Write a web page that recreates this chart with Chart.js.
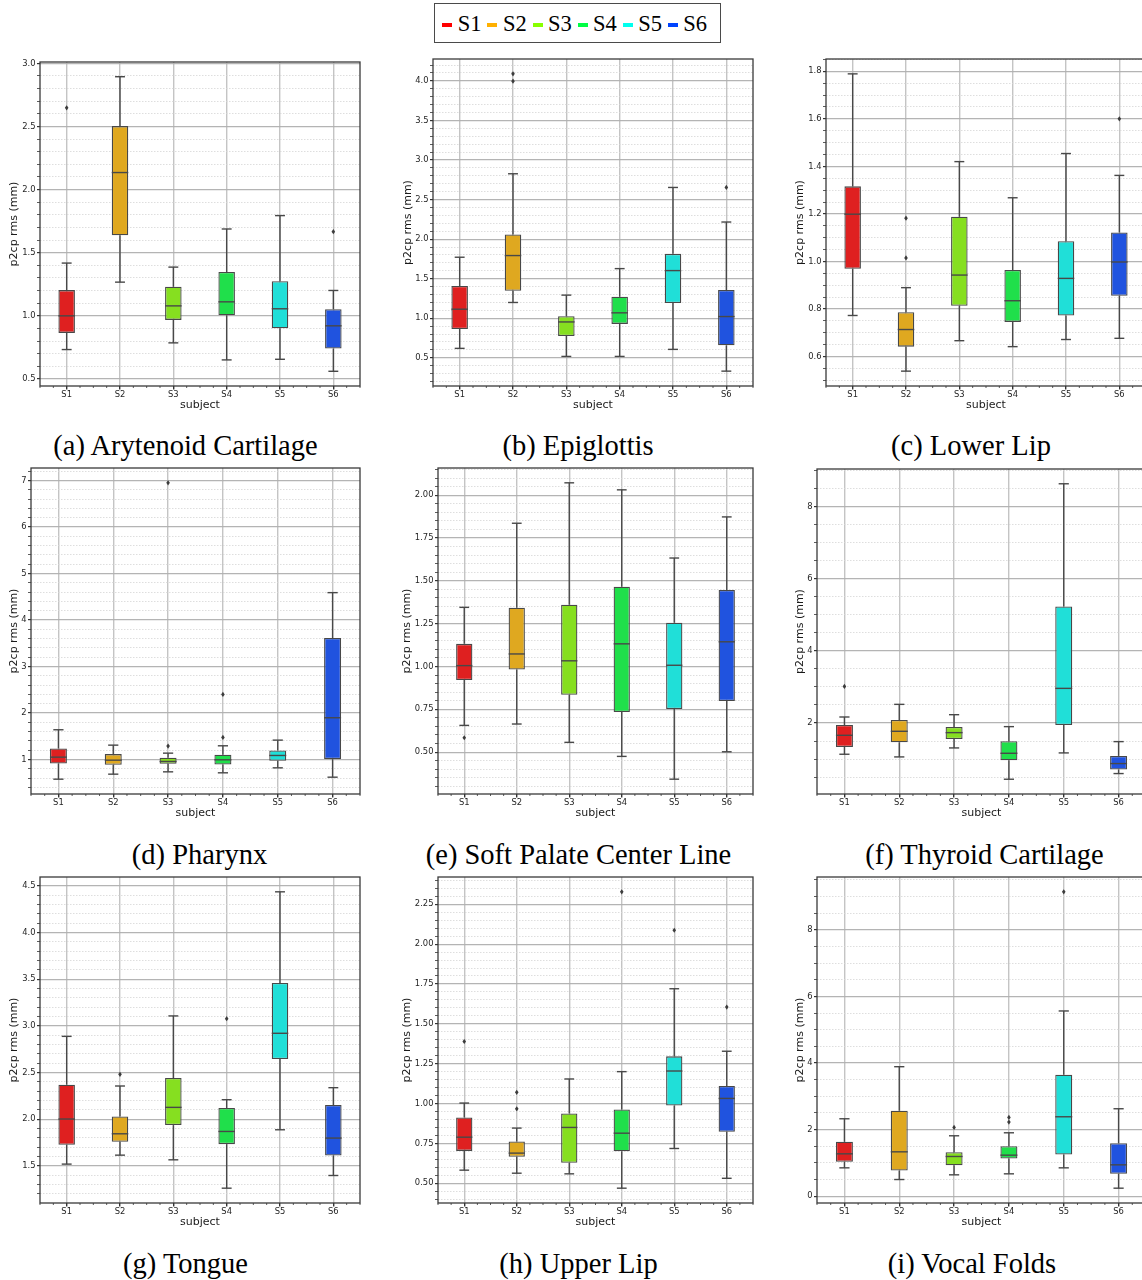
<!DOCTYPE html>
<html>
<head>
<meta charset="utf-8">
<title>p2cp rms per subject</title>
<script src="https://cdn.jsdelivr.net/npm/chart.js@4.4.1/dist/chart.umd.min.js"></script>
<style>
  html, body { margin: 0; padding: 0; background: #fff; overflow: hidden; }
  body { width: 1142px; height: 1280px; position: relative; }
  canvas { position: absolute; }
  .caption {
    position: absolute; white-space: nowrap; line-height: 1;
    font-family: 'Liberation Serif', serif; font-size: 28.5px; color: #000;
    transform: translate(-50%, -50%);
  }
  #legend {
    position: absolute; left: 434px; top: 3px; width: 287px; height: 40px;
    border: 1.4px solid #4a4a4a; box-sizing: border-box; background: #fff;
  }
  .lg-handle { position: absolute; width: 10px; height: 3.5px; top: 19px; }
  .lg-text {
    position: absolute; top: 6px; line-height: 28px;
    font-family: 'Liberation Serif', serif; font-size: 22.5px; color: #000;
  }
</style>
</head>
<body>
<div id="legend"></div>
<script>
const subjects = ['S1', 'S2', 'S3', 'S4', 'S5', 'S6'];

// each row: [lower whisker, q1, median, q3, upper whisker]
const arytenoidBoxes = [
    [0.733, 0.865, 1.000, 1.204, 1.418],
    [1.267, 1.638, 2.135, 2.503, 2.894],
    [0.786, 0.968, 1.079, 1.230, 1.386],
    [0.651, 1.005, 1.111, 1.347, 1.688],
    [0.656, 0.902, 1.056, 1.275, 1.794],
    [0.561, 0.741, 0.921, 1.053, 1.201]
];
const arytenoidOutliers = [[2.648], [], [], [], [], [1.667]];
const arytenoidTicks = [0.5, 1.0, 1.5, 2.0, 2.5, 3.0];

const epiglottisBoxes = [
    [0.619, 0.864, 1.114, 1.407, 1.771],
    [1.199, 1.347, 1.792, 2.059, 2.826],
    [0.517, 0.775, 0.953, 1.025, 1.292],
    [0.517, 0.928, 1.068, 1.271, 1.627],
    [0.606, 1.191, 1.602, 1.814, 2.653],
    [0.331, 0.657, 1.021, 1.356, 2.216]
];
const epiglottisOutliers = [[], [3.996, 4.089], [], [], [], [2.653]];
const epiglottisTicks = [0.5, 1.0, 1.5, 2.0, 2.5, 3.0, 3.5, 4.0];

const lowerLipBoxes = [
    [0.773, 0.969, 1.199, 1.316, 1.789],
    [0.539, 0.642, 0.714, 0.787, 0.890],
    [0.667, 0.814, 0.943, 1.188, 1.420],
    [0.642, 0.746, 0.835, 0.964, 1.268],
    [0.672, 0.773, 0.929, 1.085, 1.454],
    [0.677, 0.856, 0.998, 1.122, 1.362]
];
const lowerLipOutliers = [[], [1.015, 1.182], [], [], [], [1.600]];
const lowerLipTicks = [0.6, 0.8, 1.0, 1.2, 1.4, 1.6, 1.8];

const pharynxBoxes = [
    [0.576, 0.914, 1.050, 1.237, 1.639],
    [0.684, 0.885, 0.985, 1.115, 1.308],
    [0.734, 0.907, 0.957, 1.036, 1.136],
    [0.713, 0.892, 0.993, 1.100, 1.294],
    [0.820, 0.971, 1.086, 1.194, 1.416],
    [0.619, 1.007, 1.897, 3.612, 4.588]
];
const pharynxOutliers = [[], [], [1.287, 6.950], [1.474, 2.399], [], []];
const pharynxTicks = [1, 2, 3, 4, 5, 6, 7];

const softPalateBoxes = [
    [0.656, 0.921, 1.005, 1.132, 1.345],
    [0.664, 0.982, 1.073, 1.343, 1.836],
    [0.557, 0.835, 1.033, 1.360, 2.072],
    [0.475, 0.734, 1.132, 1.466, 2.031],
    [0.342, 0.752, 1.007, 1.255, 1.633],
    [0.502, 0.798, 1.144, 1.446, 1.873]
];
const softPalateOutliers = [[0.584], [], [], [], [], []];
const softPalateTicks = [0.5, 0.75, 1.0, 1.25, 1.5, 1.75, 2.0];

const thyroidBoxes = [
    [1.134, 1.336, 1.659, 1.945, 2.166],
    [1.060, 1.465, 1.770, 2.083, 2.516],
    [1.309, 1.558, 1.733, 1.889, 2.230],
    [0.442, 0.968, 1.161, 1.493, 1.899],
    [1.171, 1.945, 2.959, 5.226, 8.627],
    [0.599, 0.710, 0.876, 1.088, 1.484]
];
const thyroidOutliers = [[3.014], [], [], [], [], []];
const thyroidTicks = [2, 4, 6, 8];

const tongueBoxes = [
    [1.518, 1.725, 2.001, 2.369, 2.887],
    [1.614, 1.757, 1.843, 2.029, 2.355],
    [1.564, 1.936, 2.126, 2.440, 3.106],
    [1.260, 1.732, 1.868, 2.119, 2.208],
    [1.886, 2.644, 2.920, 3.459, 4.436],
    [1.396, 1.611, 1.797, 2.151, 2.337]
];
const tongueOutliers = [[], [2.480], [], [3.077], [], []];
const tongueTicks = [1.5, 2.0, 2.5, 3.0, 3.5, 4.0, 4.5];

const upperLipBoxes = [
    [0.582, 0.703, 0.789, 0.913, 1.003],
    [0.563, 0.666, 0.689, 0.762, 0.846],
    [0.559, 0.628, 0.850, 0.938, 1.154],
    [0.469, 0.701, 0.814, 0.963, 1.200],
    [0.718, 0.988, 1.204, 1.296, 1.720],
    [0.531, 0.823, 1.032, 1.110, 1.328]
];
const upperLipOutliers = [[1.389], [0.967, 1.070], [], [2.328], [2.087], [1.605]];
const upperLipTicks = [0.5, 0.75, 1.0, 1.25, 1.5, 1.75, 2.0, 2.25];

const vocalFoldsBoxes = [
    [0.852, 1.033, 1.273, 1.634, 2.326],
    [0.501, 0.772, 1.333, 2.566, 3.890],
    [0.642, 0.932, 1.193, 1.323, 1.815],
    [0.672, 1.133, 1.233, 1.504, 1.905],
    [0.852, 1.253, 2.386, 3.649, 5.564],
    [0.241, 0.672, 0.942, 1.594, 2.627]
];
const vocalFoldsOutliers = [[], [], [2.065], [2.226, 2.366], [9.143], []];
const vocalFoldsTicks = [0, 2, 4, 6, 8];

const boxColors = ['#df2020', '#dfa820', '#86df20', '#20df4b', '#20dfd8', '#2053df'];
const legendColors = ['#ff0000', '#ffb000', '#88ff00', '#00ff44', '#00ffee', '#0044ff'];

// layout: plot area [left, top, width, height], ylabel gap, caption centre
const panels = [
    { caption: '(a) Arytenoid Cartilage', boxes: arytenoidBoxes, outliers: arytenoidOutliers, ticks: arytenoidTicks,
      minor: 5, dec: 1, area: [40, 62, 320, 324], gap: 25, cap: [185.5, 446] },
    { caption: '(b) Epiglottis', boxes: epiglottisBoxes, outliers: epiglottisOutliers, ticks: epiglottisTicks,
      minor: 5, dec: 1, area: [433, 59, 320, 327], gap: 24.5, cap: [578, 446] },
    { caption: '(c) Lower Lip', boxes: lowerLipBoxes, outliers: lowerLipOutliers, ticks: lowerLipTicks,
      minor: 4, dec: 1, area: [826, 59, 320, 327], gap: 25, cap: [971, 446] },
    { caption: '(d) Pharynx', boxes: pharynxBoxes, outliers: pharynxOutliers, ticks: pharynxTicks,
      minor: 5, dec: 0, area: [31, 468, 329, 326], gap: 16.3, cap: [199.5, 855] },
    { caption: '(e) Soft Palate Center Line', boxes: softPalateBoxes, outliers: softPalateOutliers, ticks: softPalateTicks,
      minor: 5, dec: 2, area: [438, 468, 315, 326], gap: 30, cap: [578.5, 855] },
    { caption: '(f) Thyroid Cartilage', boxes: thyroidBoxes, outliers: thyroidOutliers, ticks: thyroidTicks,
      minor: 4, dec: 0, area: [817, 469, 329, 325], gap: 16.3, cap: [984.5, 855] },
    { caption: '(g) Tongue', boxes: tongueBoxes, outliers: tongueOutliers, ticks: tongueTicks,
      minor: 5, dec: 1, area: [40, 877, 320, 326], gap: 25, cap: [185.5, 1264] },
    { caption: '(h) Upper Lip', boxes: upperLipBoxes, outliers: upperLipOutliers, ticks: upperLipTicks,
      minor: 5, dec: 2, area: [438, 877, 315, 326], gap: 30, cap: [578.5, 1264] },
    { caption: '(i) Vocal Folds', boxes: vocalFoldsBoxes, outliers: vocalFoldsOutliers, ticks: vocalFoldsTicks,
      minor: 4, dec: 0, area: [817, 877, 329, 326], gap: 16.3, cap: [972, 1264] }
];

const FONT = 'DejaVu Sans';
const EDGE = '#484848';

// whiskers, caps, medians and fliers sit above the grid, like matplotlib lines
function boxPlugin(p) {
    return {
        id: 'boxParts',
        afterDraw(chart) {
            const { ctx, chartArea: a, scales: { x, y } } = chart;
            const meta = chart.getDatasetMeta(0);
            ctx.save();
            ctx.beginPath();
            ctx.rect(a.left, a.top, a.right - a.left, a.bottom - a.top);
            ctx.clip();
            ctx.strokeStyle = EDGE;
            ctx.lineWidth = 1.4;
            p.boxes.forEach((b, i) => {
                const cx = x.getPixelForValue(i);
                const w = meta.data[i].width;
                const seg = (x0, y0, x1, y1) => {
                    ctx.beginPath(); ctx.moveTo(x0, y0); ctx.lineTo(x1, y1); ctx.stroke();
                };
                seg(cx, y.getPixelForValue(b[0]), cx, y.getPixelForValue(b[1]));
                seg(cx, y.getPixelForValue(b[3]), cx, y.getPixelForValue(b[4]));
                seg(cx - w * 0.3, y.getPixelForValue(b[0]), cx + w * 0.3, y.getPixelForValue(b[0]));
                seg(cx - w * 0.3, y.getPixelForValue(b[4]), cx + w * 0.3, y.getPixelForValue(b[4]));
                seg(cx - w / 2, y.getPixelForValue(b[2]), cx + w / 2, y.getPixelForValue(b[2]));
                ctx.fillStyle = '#3c3c3c';
                p.outliers[i].forEach(v => {
                    const py = y.getPixelForValue(v);
                    ctx.beginPath();
                    ctx.moveTo(cx, py - 2.6); ctx.lineTo(cx + 1.8, py);
                    ctx.lineTo(cx, py + 2.6); ctx.lineTo(cx - 1.8, py);
                    ctx.closePath(); ctx.fill();
                });
            });
            ctx.restore();

            // minor x ticks
            ctx.save();
            ctx.strokeStyle = '#333';
            ctx.lineWidth = 0.8;
            for (let i = -0.5; i <= subjects.length - 0.5 + 1e-9; i += 0.25) {
                if (Math.abs(i - Math.round(i)) < 1e-9) continue;
                const px = x.getPixelForValue(i);
                ctx.beginPath(); ctx.moveTo(px, a.bottom); ctx.lineTo(px, a.bottom + 2); ctx.stroke();
            }
            // frame
            ctx.strokeStyle = '#3a3a3a';
            ctx.lineWidth = 1.3;
            ctx.strokeRect(a.left, a.top, a.right - a.left, a.bottom - a.top);
            ctx.restore();
        }
    };
}

function yRange(boxes, outliers) {
    const vals = boxes.flat().concat(outliers.flat());
    const lo = Math.min(...vals), hi = Math.max(...vals);
    const m = (hi - lo) * 0.05;
    return [lo - m, hi + m];
}

function drawPanel(p) {
    const [pl, pt, pw, ph] = p.area;
    const titleHalf = 6.6;
    const left = Math.round(pl - p.gap - titleHalf);
    const top = Math.round(pt - 8);
    const yw = pl - left;
    const padTop = pt - top;
    const xh = 25.6;
    const width = Math.ceil(yw + pw + 4);
    const height = Math.ceil(padTop + ph + xh);

    const canvas = document.createElement('canvas');
    canvas.width = width; canvas.height = height;
    canvas.style.left = left + 'px'; canvas.style.top = top + 'px';
    canvas.style.width = width + 'px'; canvas.style.height = height + 'px';
    document.body.appendChild(canvas);

    const [yMin, yMax] = yRange(p.boxes, p.outliers);
    const majorStep = p.ticks[1] - p.ticks[0];
    const minorStep = majorStep / p.minor;
    const isMajor = v => p.ticks.some(t => Math.abs(t - v) < 1e-6);

    new Chart(canvas, {
        type: 'bar',
        data: {
            labels: subjects,
            datasets: [{
                data: p.boxes.map(b => [b[1], b[3]]),
                backgroundColor: boxColors,
                borderColor: EDGE,
                borderWidth: 1.3,
                borderSkipped: false,
                categoryPercentage: 1,
                barPercentage: 0.31
            }]
        },
        options: {
            responsive: false,
            animation: false,
            events: [],
            layout: { padding: { left: 0, top: padTop, right: width - yw - pw, bottom: height - padTop - ph - xh } },
            plugins: { legend: { display: false }, tooltip: { enabled: false } },
            scales: {
                x: {
                    z: 1,
                    offset: true,
                    grid: { offset: false, color: 'rgba(190,190,190,0.9)', lineWidth: 1.4, tickLength: 3.5, tickColor: '#333' },
                    border: { display: false },
                    ticks: { font: { family: FONT, size: 8.4 }, color: '#262626', padding: 0 },
                    title: { display: true, text: 'subject', font: { family: FONT, size: 11 }, color: '#1a1a1a', padding: 0 },
                    afterFit: s => { s.height = xh; }
                },
                y: {
                    z: 1,
                    min: yMin,
                    max: yMax,
                    afterBuildTicks: s => {
                        const t = [];
                        const k0 = Math.ceil(yMin / minorStep - 1e-9);
                        const k1 = Math.floor(yMax / minorStep + 1e-9);
                        for (let k = k0; k <= k1; k++) t.push({ value: +(k * minorStep).toFixed(6) });
                        s.ticks = t;
                    },
                    grid: {
                        color: c => (c.tick && isMajor(c.tick.value)) ? 'rgba(176,176,176,0.95)' : '#d6d6d6',
                        lineWidth: c => (c.tick && isMajor(c.tick.value)) ? 1.2 : 0.8,
                        tickLength: 3,
                        tickColor: '#333'
                    },
                    border: {
                        display: false,
                        color: '#333',
                        dash: c => (c.tick && !isMajor(c.tick.value)) ? [1.5, 1.5] : []
                    },
                    ticks: {
                        autoSkip: false,
                        padding: 1.5,
                        font: { family: FONT, size: 8.4 },
                        color: '#262626',
                        callback: v => isMajor(v) ? Number(v).toFixed(p.dec) : ''
                    },
                    title: { display: true, text: 'p2cp rms (mm)', font: { family: FONT, size: 11 }, color: '#1a1a1a', padding: 0 },
                    afterFit: s => { s.width = yw; }
                }
            }
        },
        plugins: [boxPlugin(p)]
    });

    const cap = document.createElement('div');
    cap.className = 'caption';
    cap.textContent = p.caption;
    cap.style.left = p.cap[0] + 'px';
    cap.style.top = p.cap[1] + 'px';
    document.body.appendChild(cap);
}

function drawLegend() {
    const box = document.getElementById('legend');
    subjects.forEach((s, i) => {
        const h = document.createElement('div');
        h.className = 'lg-handle';
        h.style.left = (7.3 + i * 45.1) + 'px';
        h.style.background = legendColors[i];
        box.appendChild(h);
        const t = document.createElement('div');
        t.className = 'lg-text';
        t.style.left = (22.8 + i * 45.1) + 'px';
        t.textContent = s;
        box.appendChild(t);
    });
}

document.addEventListener('DOMContentLoaded', function () {
    drawLegend();
    panels.forEach(drawPanel);
});
</script>
</body>
</html>
